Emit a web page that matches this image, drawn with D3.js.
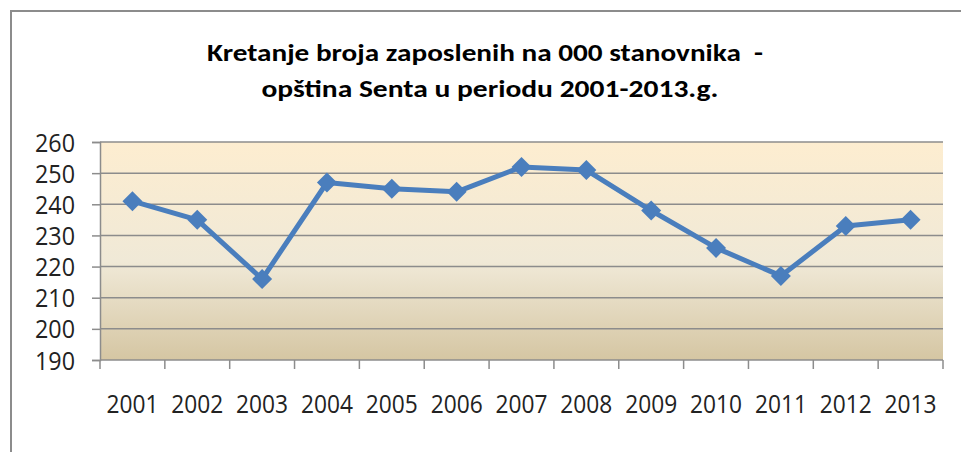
<!DOCTYPE html>
<html>
<head>
<meta charset="utf-8">
<script src="https://cdn.jsdelivr.net/npm/d3@7"></script>
<style>
  body { margin: 0; background: #fff; }
  svg { display: block; }
</style>
</head>
<body>
<div id="chart"></div>
<script>
// data
const years = ["2001", "2002", "2003", "2004", "2005", "2006", "2007",
               "2008", "2009", "2010", "2011", "2012", "2013"];
const zaposleni = [241, 235, 216, 247, 245, 244, 252, 251, 238, 226, 217, 233, 235];
const yTicks = [190, 200, 210, 220, 230, 240, 250, 260];
const titleLines = ["Kretanje broja zaposlenih na 000 stanovnika\u00a0\u00a0-",
                    "opština Senta u periodu 2001-2013.g."];

const width = 961, height = 452;
const plot = { left: 100, top: 142, right: 943, bottom: 360 };

let svg = d3.select("#chart")
    .append("svg")
    .attr("width", width)
    .attr("height", height);

// chart frame (runs off the right / bottom edge)
svg.append("rect")
    .attr("x", 11).attr("y", 11)
    .attr("width", width + 20).attr("height", height + 20)
    .attr("fill", "#fff")
    .attr("stroke", "#8c8c8c")
    .attr("stroke-width", 2);

// background gradient of the plot area
const grad = svg.append("defs").append("linearGradient")
    .attr("id", "bg").attr("x1", 0).attr("y1", 0).attr("x2", 0).attr("y2", 1);
grad.append("stop").attr("offset", "0%").attr("stop-color", "#fdedd0");
grad.append("stop").attr("offset", "55%").attr("stop-color", "#f0e9d7");
grad.append("stop").attr("offset", "100%").attr("stop-color", "#d5c6a3");

// title
const title = svg.append("g")
    .attr("font-family", "Carlito, 'Open Sans', sans-serif")
    .attr("font-weight", "bold")
    .attr("font-size", 25)
    .attr("fill", "#000")
    .attr("text-anchor", "middle");
title.append("text").attr("x", 485).attr("y", 61)
    .attr("textLength", 556).attr("lengthAdjust", "spacingAndGlyphs")
    .text(titleLines[0]);
title.append("text").attr("x", 490).attr("y", 97)
    .attr("textLength", 457).attr("lengthAdjust", "spacingAndGlyphs")
    .text(titleLines[1]);

// scales
const x = d3.scaleBand()
    .domain(years)
    .range([plot.left, plot.right]);
const y = d3.scaleLinear()
    .domain([190, 260])
    .range([plot.bottom, plot.top]);

svg.append("rect")
    .attr("x", plot.left).attr("y", plot.top)
    .attr("width", plot.right - plot.left)
    .attr("height", plot.bottom - plot.top)
    .attr("fill", "url(#bg)");

// horizontal gridlines
svg.append("g")
    .selectAll("line")
    .data(yTicks.slice(1))
    .join("line")
    .attr("x1", plot.left).attr("x2", plot.right)
    .attr("y1", d => y(d)).attr("y2", d => y(d))
    .attr("stroke", "#8c8c8c")
    .attr("stroke-width", 1.5);

// y axis
const yAxis = svg.append("g")
    .attr("transform", `translate(${plot.left},0)`)
    .call(d3.axisLeft(y).tickValues(yTicks).tickSize(8).tickPadding(17));
yAxis.select(".domain").attr("stroke", "#8c8c8c").attr("stroke-width", 1.5);
yAxis.selectAll(".tick line").attr("stroke", "#8c8c8c").attr("stroke-width", 1.5);
yAxis.selectAll("text")
    .attr("font-family", "'Open Sans', sans-serif")
    .attr("font-size", 25)
    .attr("fill", "#222")
    .attr("dy", "0.36em")
    .attr("textLength", 40).attr("lengthAdjust", "spacingAndGlyphs");

// x axis: ticks between categories
const xAxis = svg.append("g")
    .attr("transform", `translate(0,${plot.bottom})`)
    .call(d3.axisBottom(x).tickSize(0));
xAxis.select(".domain").remove();
xAxis.selectAll("text")
    .attr("font-family", "'Open Sans', sans-serif")
    .attr("font-size", 25)
    .attr("fill", "#222")
    .attr("y", 53)
    .attr("dy", 0)
    .attr("textLength", 52).attr("lengthAdjust", "spacingAndGlyphs");
xAxis.append("line")
    .attr("x1", plot.left).attr("x2", plot.right)
    .attr("stroke", "#8c8c8c").attr("stroke-width", 1.5);
xAxis.selectAll(".sep")
    .data(years.concat(["end"]))
    .join("line")
    .attr("class", "sep")
    .attr("x1", (d, i) => plot.left + i * x.step())
    .attr("x2", (d, i) => plot.left + i * x.step())
    .attr("y1", 0).attr("y2", 9)
    .attr("stroke", "#8c8c8c").attr("stroke-width", 1.5);

// line + diamond markers
const pts = years.map((d, i) => ({ year: d, value: zaposleni[i] }));
const line = d3.line()
    .x(d => x(d.year) + x.bandwidth() / 2)
    .y(d => y(d.value));

svg.append("path")
    .datum(pts)
    .attr("d", line)
    .attr("fill", "none")
    .attr("stroke", "#4a7ebd")
    .attr("stroke-width", 5)
    .attr("stroke-linejoin", "round");

svg.append("g")
    .selectAll("path")
    .data(pts)
    .join("path")
    .attr("d", d3.symbol().type(d3.symbolSquare).size(200))
    .attr("transform", d => `translate(${x(d.year) + x.bandwidth() / 2},${y(d.value)}) rotate(45)`)
    .attr("fill", "#4a7ebd");
</script>
</body>
</html>
